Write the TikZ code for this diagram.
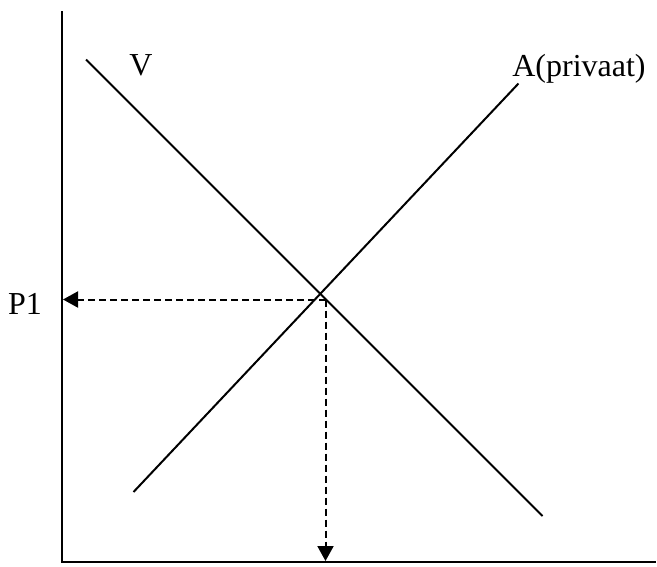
\documentclass[tikz,border=0pt]{standalone}
\usepackage{fontspec}
\setmainfont{Liberation Serif}
\usetikzlibrary{arrows.meta}
\begin{document}
\begin{tikzpicture}[x=1pt,y=-1pt,
  axisline/.style={line width=2.4pt},
  curveline/.style={line width=2pt},
  guideline/.style={line width=2pt,dash pattern=on 7pt off 4pt,-{Triangle[length=15pt,width=16pt]}},
  lbl/.style={inner sep=0pt,font=\fontsize{32}{38}\selectfont}]
\useasboundingbox (0,0) rectangle (657,566);
% axes
\coordinate (ytop) at (62,11);
\coordinate (origin) at (62,562);
\coordinate (xend) at (656,562);
\draw[axisline] (ytop) -- (origin) -- (xend);
% demand V
\coordinate (v1) at (86,59.5);
\coordinate (v2) at (542.5,516);
\draw[curveline] (v1) -- (v2);
% supply A
\coordinate (a1) at (133.5,492);
\coordinate (a2) at (518.5,83.5);
\draw[curveline] (a1) -- (a2);
% equilibrium guides
\coordinate (eq) at (325.5,299.5);
\coordinate (p1ax) at (63,299.5);
\coordinate (qax) at (325.5,561);
\draw[guideline] (eq) -- (p1ax);
\draw[guideline] (eq) -- (qax);
% labels
\node[lbl,anchor=base] (lv) at (141,75) {V};
\node[lbl,anchor=base] (la) at (579,76.5) {A(privaat)};
\node[lbl,anchor=base] (lp) at (25,314) {P1};
\end{tikzpicture}
\end{document}
